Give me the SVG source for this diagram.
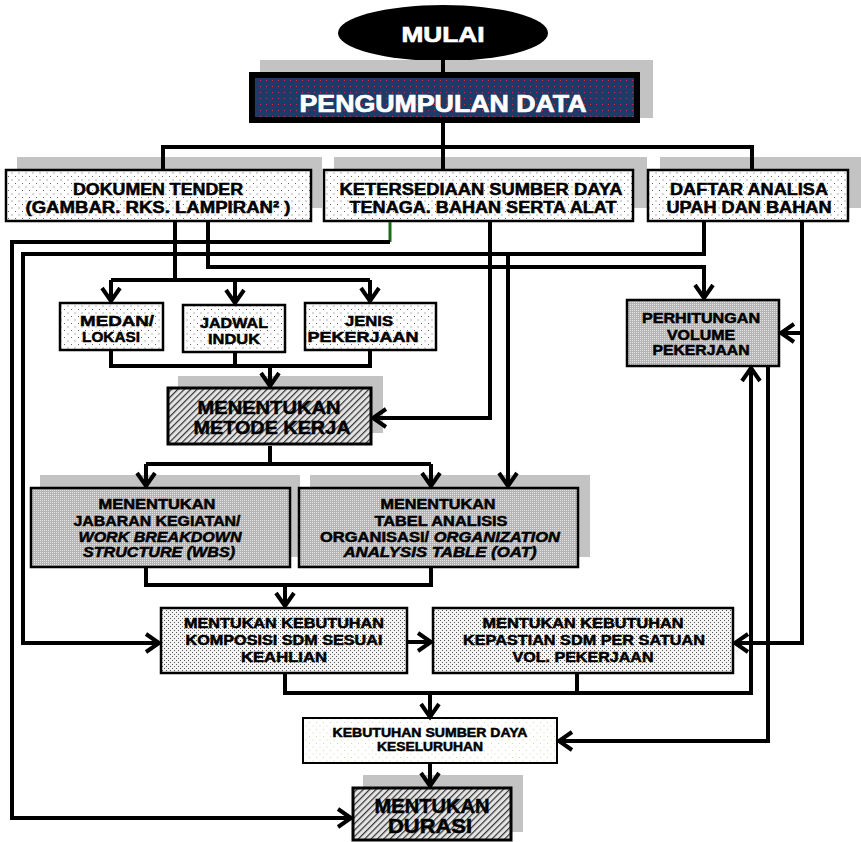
<svg xmlns="http://www.w3.org/2000/svg" width="861" height="842" viewBox="0 0 861 842">
  <defs>
    <!-- light dotted fill for data boxes -->
    <pattern id="dotSparse" width="7" height="7" patternUnits="userSpaceOnUse">
      <rect width="7" height="7" fill="#ffffff"/>
      <rect x="1" y="1" width="1" height="1" fill="#666"/>
      <rect x="4.5" y="4.5" width="1" height="1" fill="#666"/>
    </pattern>
    <!-- denser dotted fill -->
    <pattern id="dotDense" width="4" height="4" patternUnits="userSpaceOnUse">
      <rect width="4" height="4" fill="#f4f4f4"/>
      <rect x="0" y="0" width="1" height="1" fill="#555"/>
      <rect x="2" y="2" width="1" height="1" fill="#555"/>
    </pattern>
    <!-- grey stipple -->
    <pattern id="stipple" width="2" height="2" patternUnits="userSpaceOnUse">
      <rect width="2" height="2" fill="#b4b4b4"/>
      <rect x="0" y="0" width="1" height="1" fill="#e6e6e6"/>
    </pattern>
    <!-- diagonal hatch -->
    <pattern id="hatch" width="4.5" height="4.5" patternUnits="userSpaceOnUse" patternTransform="rotate(45)">
      <rect width="4.5" height="4.5" fill="#e4e4e4"/>
      <rect x="0" y="0" width="1.2" height="4.5" fill="#333"/>
    </pattern>
    <!-- navy with red dots -->
    <pattern id="navy" width="6" height="6" patternUnits="userSpaceOnUse">
      <rect width="6" height="6" fill="#1f3a66"/>
      <rect x="2" y="2" width="1" height="1" fill="#c23a3a"/>
    </pattern>
    <!-- faint dots -->
    <pattern id="dotFaint" width="7" height="7" patternUnits="userSpaceOnUse">
      <rect width="7" height="7" fill="#ffffff"/>
      <rect x="1" y="1" width="1" height="1" fill="#d8d8a8"/>
      <rect x="4.5" y="4.5" width="1" height="1" fill="#d8d8a8"/>
    </pattern>
    <marker id="arr" viewBox="-16 -12 20 24" refX="0" refY="0" markerWidth="20" markerHeight="24" markerUnits="userSpaceOnUse" orient="auto">
      <path d="M-13,-9 L0,0 L-13,9" fill="none" stroke="#000" stroke-width="4"/>
    </marker>
  </defs>
  <style>
    .t { font-family: "Liberation Sans", Arial, sans-serif; font-weight: bold; text-anchor: middle; fill: #000; stroke: #000; stroke-width: 0.5; }
    .w { fill: #fff; stroke: #fff; stroke-width: 0.7; }
    .box { stroke: #000; stroke-width: 2.5; }
    .shadow { fill: #c3c3c3; }
    .ln { fill: none; stroke: #000; stroke-width: 4; stroke-linejoin: miter; }
    .a { marker-end: url(#arr); }
    .it { font-style: italic; }
  </style>

  <rect width="861" height="842" fill="#ffffff"/>

  <g id="mulai">
    <ellipse cx="443" cy="33" rx="105" ry="28" fill="#000"/>
    <text class="t w" x="443" y="42" font-size="22" textLength="83" lengthAdjust="spacingAndGlyphs">MULAI</text>
  </g>

  <g id="pengumpulan">
    <rect class="shadow" x="260" y="60" width="393" height="58"/>
    <rect x="252" y="75" width="385" height="45" fill="url(#navy)" stroke="#000" stroke-width="6"/>
    <text class="t w" x="443" y="112" font-size="23" textLength="287" lengthAdjust="spacingAndGlyphs">PENGUMPULAN DATA</text>
  </g>

  <g id="dokumen">
    <rect class="shadow" x="17" y="157" width="305" height="51"/>
    <rect class="box" x="6" y="170" width="305" height="51" fill="url(#dotSparse)"/>
    <text class="t" x="158" y="195" font-size="16" textLength="170" lengthAdjust="spacingAndGlyphs">DOKUMEN TENDER</text>
    <text class="t" x="158" y="213" font-size="16" textLength="265" lengthAdjust="spacingAndGlyphs">(GAMBAR. RKS.  LAMPIRAN² )</text>
  </g>

  <g id="ketersediaan">
    <rect class="shadow" x="334" y="157" width="313" height="51"/>
    <rect class="box" x="324" y="170" width="309" height="51" fill="url(#dotSparse)"/>
    <text class="t" x="481" y="195" font-size="16" textLength="283" lengthAdjust="spacingAndGlyphs">KETERSEDIAAN SUMBER  DAYA</text>
    <text class="t" x="483" y="213" font-size="16" textLength="267" lengthAdjust="spacingAndGlyphs">TENAGA. BAHAN SERTA ALAT</text>
  </g>

  <g id="daftar">
    <rect class="shadow" x="660" y="157" width="201" height="51"/>
    <rect class="box" x="648" y="170" width="200" height="51" fill="url(#dotSparse)"/>
    <text class="t" x="749" y="195" font-size="16" textLength="158" lengthAdjust="spacingAndGlyphs">DAFTAR ANALISA</text>
    <text class="t" x="749" y="213" font-size="16" textLength="165" lengthAdjust="spacingAndGlyphs">UPAH DAN BAHAN</text>
  </g>

  <g id="medan">
    <rect class="box" x="60" y="303" width="103" height="47" fill="url(#dotSparse)"/>
    <text class="t" x="117" y="326" font-size="15" textLength="74" lengthAdjust="spacingAndGlyphs">MEDAN/</text>
    <text class="t" x="111" y="342" font-size="15" textLength="58" lengthAdjust="spacingAndGlyphs">LOKASI</text>
  </g>

  <g id="jadwal">
    <rect class="box" x="183" y="305" width="102" height="47" fill="url(#dotSparse)"/>
    <text class="t" x="234" y="328" font-size="15" textLength="68" lengthAdjust="spacingAndGlyphs">JADWAL</text>
    <text class="t" x="234" y="344" font-size="15" textLength="52" lengthAdjust="spacingAndGlyphs">INDUK</text>
  </g>

  <g id="jenis">
    <rect class="box" x="305" y="303" width="131" height="47" fill="url(#dotSparse)"/>
    <text class="t" x="369" y="326" font-size="15" textLength="48" lengthAdjust="spacingAndGlyphs">JENIS</text>
    <text class="t" x="363" y="342" font-size="15" textLength="111" lengthAdjust="spacingAndGlyphs">PEKERJAAN</text>
  </g>

  <g id="metode">
    <rect class="shadow" x="178" y="376" width="205" height="57"/>
    <rect x="168" y="388" width="203" height="56" fill="url(#hatch)" stroke="#000" stroke-width="3"/>
    <text class="t" x="269" y="414" font-size="19" textLength="143" lengthAdjust="spacingAndGlyphs">MENENTUKAN</text>
    <text class="t" x="272" y="434" font-size="19" textLength="157" lengthAdjust="spacingAndGlyphs">METODE KERJA</text>
  </g>

  <g id="perhitungan">
    <rect class="box" x="627" y="300" width="152" height="66" fill="url(#stipple)"/>
    <text class="t" x="701" y="323" font-size="14" textLength="118" lengthAdjust="spacingAndGlyphs">PERHITUNGAN</text>
    <text class="t" x="701" y="340" font-size="14" textLength="68" lengthAdjust="spacingAndGlyphs">VOLUME</text>
    <text class="t" x="701" y="355" font-size="14" textLength="97" lengthAdjust="spacingAndGlyphs">PEKERJAAN</text>
  </g>

  <g id="wbs">
    <rect class="shadow" x="40" y="475" width="260" height="82"/>
    <rect class="box" x="31" y="488" width="259" height="79" fill="url(#stipple)"/>
    <text class="t" x="157" y="509" font-size="14" textLength="117" lengthAdjust="spacingAndGlyphs">MENENTUKAN</text>
    <text class="t" x="157" y="526" font-size="14" textLength="167" lengthAdjust="spacingAndGlyphs">JABARAN KEGIATAN/</text>
    <text class="t it" x="160" y="542" font-size="14" textLength="163" lengthAdjust="spacingAndGlyphs">WORK BREAKDOWN</text>
    <text class="t it" x="159" y="557" font-size="14" textLength="152" lengthAdjust="spacingAndGlyphs">STRUCTURE (WBS)</text>
  </g>

  <g id="oat">
    <rect class="shadow" x="310" y="475" width="280" height="82"/>
    <rect class="box" x="299" y="488" width="279" height="79" fill="url(#stipple)"/>
    <text class="t" x="438" y="509" font-size="14" textLength="115" lengthAdjust="spacingAndGlyphs">MENENTUKAN</text>
    <text class="t" x="441" y="526" font-size="14" textLength="133" lengthAdjust="spacingAndGlyphs">TABEL ANALISIS</text>
    <text class="t" x="440" y="542" font-size="14" textLength="240" lengthAdjust="spacingAndGlyphs">ORGANISASI/ <tspan class="it">ORGANIZATION</tspan></text>
    <text class="t it" x="440" y="557" font-size="14" textLength="193" lengthAdjust="spacingAndGlyphs">ANALYSIS TABLE (OAT)</text>
  </g>

  <g id="komposisi">
    <rect class="box" x="161" y="608" width="246" height="65" fill="url(#dotDense)"/>
    <text class="t" x="284" y="628" font-size="14" textLength="200" lengthAdjust="spacingAndGlyphs">MENTUKAN KEBUTUHAN</text>
    <text class="t" x="284" y="645" font-size="14" textLength="197" lengthAdjust="spacingAndGlyphs">KOMPOSISI SDM SESUAI</text>
    <text class="t" x="284" y="662" font-size="14" textLength="86" lengthAdjust="spacingAndGlyphs">KEAHLIAN</text>
  </g>

  <g id="kepastian">
    <rect class="box" x="433" y="608" width="300" height="65" fill="url(#dotDense)"/>
    <text class="t" x="583" y="628" font-size="14" textLength="201" lengthAdjust="spacingAndGlyphs">MENTUKAN KEBUTUHAN</text>
    <text class="t" x="584" y="645" font-size="14" textLength="242" lengthAdjust="spacingAndGlyphs">KEPASTIAN SDM PER SATUAN</text>
    <text class="t" x="583" y="662" font-size="14" textLength="141" lengthAdjust="spacingAndGlyphs">VOL. PEKERJAAN</text>
  </g>

  <g id="kebutuhan">
    <rect x="303" y="718" width="254" height="45" fill="url(#dotFaint)" stroke="#000" stroke-width="2"/>
    <text class="t" x="430" y="737" font-size="12.5" textLength="195" lengthAdjust="spacingAndGlyphs">KEBUTUHAN SUMBER DAYA</text>
    <text class="t" x="430" y="751" font-size="12.5" textLength="106" lengthAdjust="spacingAndGlyphs">KESELURUHAN</text>
  </g>

  <g id="durasi">
    <rect class="shadow" x="363" y="775" width="160" height="57"/>
    <rect x="353" y="788" width="158" height="52" fill="url(#hatch)" stroke="#000" stroke-width="3"/>
    <text class="t" x="432" y="813" font-size="20" textLength="115" lengthAdjust="spacingAndGlyphs">MENTUKAN</text>
    <text class="t" x="430" y="833" font-size="20" textLength="84" lengthAdjust="spacingAndGlyphs">DURASI</text>
  </g>

  <!-- connectors, drawn above the box shadows -->
  <g id="connectors">
    <path class="ln" d="M443,60 V73"/>
    <path class="ln" d="M443,123 V169 M163,169 V147 H752 V169"/>
    <!-- tender documents to sub items -->
    <path class="ln" d="M175,222 V280 M111,280 H370"/>
    <path class="ln a" d="M111,280 V301"/>
    <path class="ln a" d="M235,280 V303"/>
    <path class="ln a" d="M370,280 V301"/>
    <path class="ln" d="M111,351 V366 H370 V351 M235,353 V366"/>
    <path class="ln a" d="M270,366 V386"/>
    <!-- resources to work method -->
    <path class="ln a" d="M490,222 V418 H373"/>
    <!-- work method to WBS / OAT -->
    <path class="ln" d="M270,446 V464 M146,464 H431"/>
    <path class="ln a" d="M146,464 V486"/>
    <path class="ln a" d="M431,464 V486"/>
    <!-- analysis list to competence composition -->
    <path class="ln a" d="M704,222 V254 H23 V643 H159"/>
    <path class="ln a" d="M508,254 V486"/>
    <!-- resources (green stub) to duration -->
    <path fill="none" stroke="#1b6d1b" stroke-width="3" d="M390,222 V242"/>
    <path class="ln a" d="M390,242 H12 V818 H351"/>
    <!-- tender documents to volume calculation -->
    <path class="ln a" d="M208,222 V267 H704 V298"/>
    <!-- analysis list to volume / certainty -->
    <path class="ln a" d="M802,222 V643 H735"/>
    <path class="ln a" d="M802,333 H781"/>
    <!-- WBS / OAT to composition -->
    <path class="ln" d="M146,568 V585 H431 V568"/>
    <path class="ln a" d="M285,585 V606"/>
    <path class="ln a" d="M408,642 H431"/>
    <!-- needs to total resources and volume -->
    <path class="ln a" d="M285,674 V693 H751 V368"/>
    <path class="ln" d="M577,674 V693"/>
    <path class="ln a" d="M430,693 V717"/>
    <path class="ln a" d="M768,367 V741 H559"/>
    <path class="ln a" d="M430,764 V786"/>
  </g>
</svg>
